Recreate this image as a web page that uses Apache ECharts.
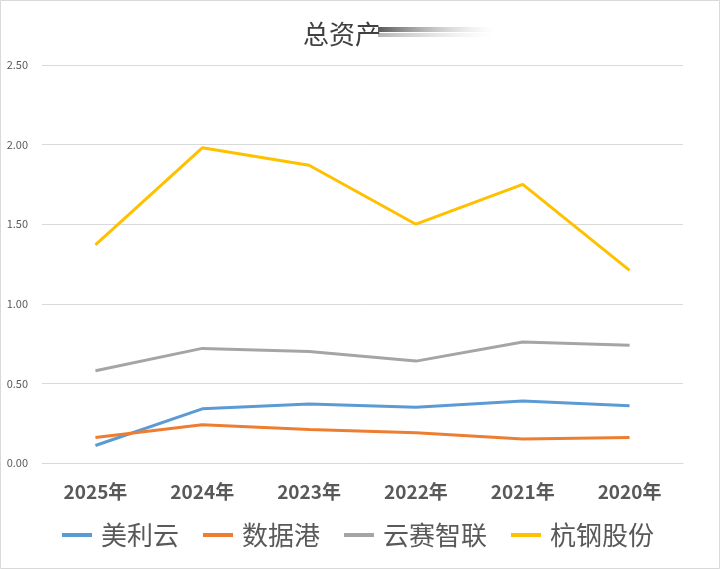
<!DOCTYPE html>
<html>
<head>
<meta charset="utf-8">
<script src="https://cdn.jsdelivr.net/npm/echarts@6/dist/echarts.min.js"></script>
<style>html,body{margin:0;padding:0;background:#fff}#c{width:720px;height:569px}</style>
</head>
<body>
<div id="c"></div>
<script>
var categories = ['2025年', '2024年', '2023年', '2022年', '2021年', '2020年'];
var meiliyun = [0.11, 0.34, 0.37, 0.35, 0.39, 0.36];
var shujugang = [0.16, 0.24, 0.21, 0.19, 0.15, 0.16];
var yunsai = [0.58, 0.72, 0.70, 0.64, 0.76, 0.74];
var hanggang = [1.37, 1.98, 1.87, 1.50, 1.75, 1.21];
var seriesNames = ['美利云', '数据港', '云赛智联', '杭钢股份'];
var seriesData = [meiliyun, shujugang, yunsai, hanggang];
var colors = ['#5B9BD5', '#ED7D31', '#A5A5A5', '#FFC000'];
var yTicks = { min: 0, max: 2.5, interval: 0.5 };

var chart = echarts.init(document.getElementById('c'));
var font = '"Noto Sans CJK SC", "Noto Sans", sans-serif';
chart.setOption({
  backgroundColor: '#fff',
  animation: false,
  color: colors,
  title: {
    text: '总资产',
    left: 298,
    top: 16,
    textStyle: { fontSize: 26, fontWeight: 'normal', color: '#404040', fontFamily: font }
  },
  graphic: [
    {
      type: 'rect',
      shape: { x: 0.5, y: 0.5, width: 719, height: 568 },
      style: { fill: 'none', stroke: '#d9d9d9', lineWidth: 1 },
      silent: true
    },
    {
      type: 'rect',
      shape: { x: 378, y: 27, width: 117, height: 5 },
      style: {
        fill: new echarts.graphic.LinearGradient(0, 0, 1, 0, [
          { offset: 0, color: 'rgba(70,70,70,0.9)' },
          { offset: 1, color: 'rgba(200,200,200,0)' }
        ])
      },
      silent: true
    },
    {
      type: 'rect',
      shape: { x: 378, y: 33, width: 117, height: 4 },
      style: {
        fill: new echarts.graphic.LinearGradient(0, 0, 1, 0, [
          { offset: 0, color: 'rgba(150,150,150,0.7)' },
          { offset: 1, color: 'rgba(220,220,220,0)' }
        ])
      },
      silent: true
    }
  ],
  legend: {
    data: seriesNames,
    bottom: 16,
    left: 57,
    icon: 'rect',
    itemWidth: 30,
    itemHeight: 4,
    itemGap: 24,
    textStyle: { fontSize: 26, color: '#595959', fontFamily: font, padding: [0, 0, 0, 4] }
  },
  grid: { left: 42, right: 37, top: 65, bottom: 106 },
  xAxis: {
    type: 'category',
    data: categories,
    boundaryGap: true,
    axisLine: { lineStyle: { color: '#d9d9d9' } },
    axisTick: { show: false },
    axisLabel: { fontSize: 19, fontWeight: 'bold', color: '#595959', margin: 19, fontFamily: font }
  },
  yAxis: {
    type: 'value',
    min: yTicks.min,
    max: yTicks.max,
    interval: yTicks.interval,
    axisLine: { show: false },
    axisTick: { show: false },
    splitLine: { lineStyle: { color: '#d9d9d9', width: 1 } },
    axisLabel: {
      fontSize: 11, color: '#595959', margin: 14, fontFamily: font,
      formatter: function (v) { return v.toFixed(2); }
    }
  },
  series: seriesNames.map(function (n, i) {
    return {
      name: n,
      type: 'line',
      data: seriesData[i],
      showSymbol: false,
      symbol: 'none',
      lineStyle: { width: 3, color: colors[i] },
      itemStyle: { color: colors[i] }
    };
  })
});
</script>
</body>
</html>
